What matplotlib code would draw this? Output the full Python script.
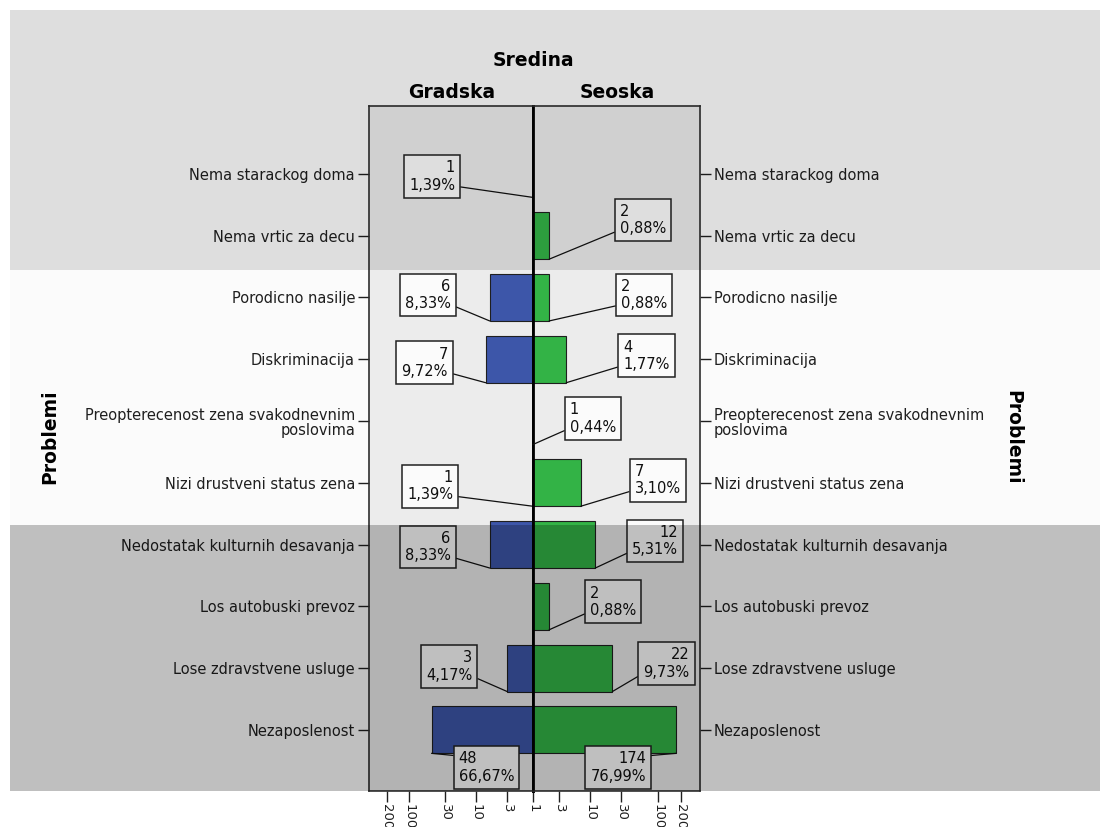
import numpy as np
import matplotlib
matplotlib.use("Agg")
import matplotlib.pyplot as plt
from matplotlib.patches import Rectangle

# data
problems = ["Nema starackog doma", "Nema vrtic za decu", "Porodicno nasilje",
            "Diskriminacija", "Preopterecenost zena svakodnevnim\nposlovima",
            "Nizi drustveni status zena", "Nedostatak kulturnih desavanja",
            "Los autobuski prevoz", "Lose zdravstvene usluge", "Nezaposlenost"]
gradska = [1, 0, 6, 7, 0, 1, 6, 0, 3, 48]
gradska_pct = ["1,39%", "", "8,33%", "9,72%", "", "1,39%", "8,33%", "", "4,17%", "66,67%"]
seoska = [0, 2, 2, 4, 1, 7, 12, 2, 22, 174]
seoska_pct = ["", "0,88%", "0,88%", "1,77%", "0,44%", "3,10%", "5,31%", "0,88%", "9,73%", "76,99%"]
tick_vals = [1, 3, 10, 30, 100, 200]

# label box offsets in pixels from the bar end at bar bottom
left_off = [(-101, 21), None, (-62, 26), (-61, 20), None, (-103, 20),
            (-62, 21), None, (-58, 25), (55, -14)]
right_off = [None, (94, 39), (95, 26), (80, 27), (60, 26), (77, 26),
             (60, 27), (64, 28), (54, 28), (-58, -14)]

BLUE = "#3E58AC"
GREEN = "#34B648"
PANEL = "#f0f0f0"

plt.rcParams["font.family"] = "DejaVu Sans"

W, H = 1105, 827
def fx(px):
    return px / W
def fy(py):
    return 1 - py / H

# SPSS-like log axis (slightly stretched toward large values)
A = 0.044
def fwd(x):
    u = np.log(np.clip(x, 1e-6, None))
    return u + A * u ** 2
def inv(y):
    u = (-1 + np.sqrt(np.clip(1 + 4 * A * y, 0, None))) / (2 * A)
    return np.exp(u)

fig = plt.figure(figsize=(W / 100, H / 100), dpi=100)

top, bottom, mid = 106, 791, 533
ax_l = fig.add_axes([fx(369), fy(bottom), fx(mid - 369), fy(top) - fy(bottom)])
ax_r = fig.add_axes([fx(mid), fy(bottom), fx(700 - mid), fy(top) - fy(bottom)], sharey=ax_l)

rows = np.arange(len(problems))
bar_h = 0.76

for ax, vals, pcts, offs, color, side in [
        (ax_l, gradska, gradska_pct, left_off, BLUE, "left"),
        (ax_r, seoska, seoska_pct, right_off, GREEN, "right")]:
    ax.set_facecolor(PANEL)
    ax.set_xscale("function", functions=(fwd, inv))
    vals = np.array(vals)
    m = vals > 1
    ax.barh(rows[m], vals[m] - 1, left=1, height=bar_h, color=color,
            edgecolor="#202020", linewidth=0.8, zorder=2)
    for i, v in enumerate(vals):
        if v < 1:
            continue
        dx, dy = offs[i]
        long_num = len(str(v)) > 1
        if side == "left":
            malign = "left" if long_num else "right"
        else:
            malign = "right" if long_num else "left"
        rx = 1 if dx < 0 else 0
        ry = 0.85 if dy < 0 else 0.2
        ax.annotate(f"{v}\n{pcts[i]}", xy=(v, i + bar_h / 2),
                    xytext=(dx, dy), textcoords="offset pixels",
                    ha="center", va="center", multialignment=malign,
                    fontsize=10.5, linespacing=1.2, color="#111111",
                    bbox=dict(boxstyle="square,pad=0.35", fc="white", ec="#222222", lw=1.1),
                    arrowprops=dict(arrowstyle="-", color="#111111", lw=0.9,
                                    relpos=(rx, ry), shrinkA=0, shrinkB=0),
                    zorder=5, annotation_clip=False)
    for s in ax.spines.values():
        s.set_color("#303030")
        s.set_linewidth(1.2)
    ax.xaxis.set_minor_locator(matplotlib.ticker.NullLocator())
    ax.tick_params(axis="x", direction="out", length=8, width=1, colors="#202020",
                   labelsize=9.5, labelrotation=-90, pad=1)

ax_l.set_xlim(340, 1)
ax_r.set_xlim(1, 355)
ax_l.set_ylim(9.99, -1.1)

ax_l.set_xticks(tick_vals[1:])
ax_l.set_xticklabels([str(t) for t in tick_vals[1:]], va="top")
ax_r.set_xticks(tick_vals)
ax_r.set_xticklabels([str(t) for t in tick_vals], va="top")

ax_l.spines["right"].set_linewidth(2)
ax_l.spines["right"].set_color("black")
ax_r.spines["left"].set_linewidth(2)
ax_r.spines["left"].set_color("black")

ax_l.set_yticks(rows)
ax_l.set_yticklabels(problems, fontsize=10.5, color="#202020", ha="right", linespacing=1.0)
ax_l.tick_params(axis="y", direction="out", length=8, width=1, colors="#202020", pad=2)
ax_r.tick_params(axis="y", left=False, labelleft=False, right=True, labelright=True,
                 direction="out", length=8, width=1, colors="#202020", pad=2)
for lab in ax_r.get_yticklabels():
    lab.set_fontsize(10.5)
    lab.set_ha("left")
    lab.set_linespacing(1.0)

# headers
fig.text(fx(mid), fy(60), "Sredina", ha="center", va="center", fontsize=13.5, fontweight="bold")
fig.text(fx(452), fy(93), "Gradska", ha="center", va="center", fontsize=13.5, fontweight="bold")
fig.text(fx(617), fy(93), "Seoska", ha="center", va="center", fontsize=13.5, fontweight="bold")
fig.text(fx(50), fy(437), "Problemi", ha="center", va="center", fontsize=13.5,
         fontweight="bold", rotation=90)
fig.text(fx(1013), fy(437), "Problemi", ha="center", va="center", fontsize=13.5,
         fontweight="bold", rotation=-90)

# shaded bands over the whole chart
bands = [(10, 270, 0.13), (270, 525, 0.015), (525, 791, 0.25)]
for y0, y1, a in bands:
    fig.add_artist(Rectangle((fx(10), fy(y1)), fx(1100) - fx(10), fy(y0) - fy(y1),
                             transform=fig.transFigure, facecolor="black", alpha=a,
                             edgecolor="none", zorder=10))

fig.savefig("out.png", dpi=100)
